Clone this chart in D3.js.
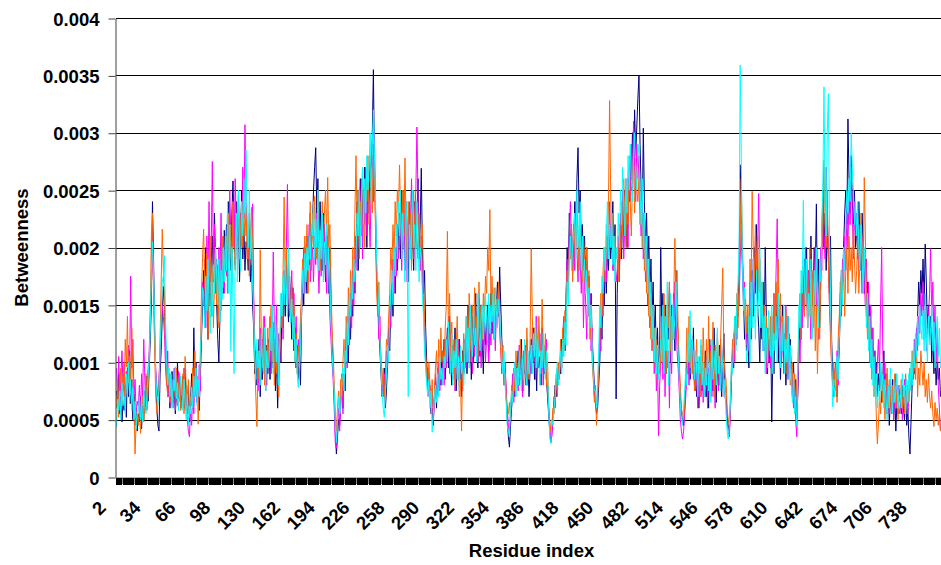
<!DOCTYPE html>
<html>
<head>
<meta charset="utf-8">
<script src="https://cdn.jsdelivr.net/npm/d3@7"></script>
<style>
  body { margin: 0; background: #fff; }
  svg text { font-family: Arial, "Liberation Sans", sans-serif; font-weight: bold; fill: #000; }
</style>
</head>
<body>
<div id="chart"></div>
<script>
// betweenness per residue, residues 2..759, values in units of 1e-5
const firstResidue = 2;

const navy = [
  75,62,90,55,70,48,66,58,80,52,95,70,110,64,85,50,72,45,60,40,
  55,48,70,42,62,50,75,58,88,66,95,120,150,240,190,130,85,60,45,40,
  90,110,140,166,150,120,95,70,88,60,78,92,65,80,55,72,100,68,85,60,
  72,88,60,95,70,55,80,48,66,90,60,130,85,100,65,78,58,90,120,150,
  180,140,200,160,120,175,150,190,210,170,230,185,150,120,100,140,170,200,160,215,
  190,220,170,240,200,180,230,258,210,185,240,200,225,170,210,250,190,220,180,205,
  200,180,220,170,195,150,130,90,110,80,95,120,70,105,85,130,100,75,115,90,
  120,85,110,140,95,130,75,105,60,90,120,100,150,130,170,140,190,160,135,175,
  150,120,165,110,130,95,115,85,100,80,140,170,150,200,175,160,210,185,230,200,
  220,250,270,287,230,260,200,240,210,180,230,200,170,220,190,160,200,150,120,95,
  70,40,20,35,50,45,65,80,60,90,75,110,130,100,150,120,170,140,185,160,
  200,240,180,230,260,210,250,220,270,240,200,260,230,280,250,300,355,270,230,180,
  160,130,110,90,70,80,95,60,75,100,130,110,150,170,140,190,160,200,180,210,
  230,190,250,200,220,180,240,210,170,230,200,250,210,180,240,200,230,260,190,220,
  269,200,160,180,130,100,80,90,70,55,60,45,70,85,60,95,75,100,80,110,
  90,120,85,110,130,95,140,100,80,115,90,130,75,100,85,120,95,70,110,90,
  100,130,90,150,110,120,85,140,100,125,160,110,95,135,105,150,120,90,140,115,
  130,150,110,140,160,125,145,120,135,150,170,140,183,150,120,100,85,95,70,50,
  35,26,45,60,75,90,70,100,85,110,80,95,120,75,105,90,115,80,100,70,
  95,120,100,130,85,110,75,120,95,105,80,130,100,90,115,85,70,55,40,30,
  40,55,65,80,70,95,85,100,90,120,105,130,110,150,200,170,230,190,220,180,
  200,240,210,260,287,230,250,200,220,180,210,170,200,150,175,140,160,120,100,80,
  65,55,60,80,100,140,120,170,150,190,160,200,180,220,190,210,240,180,220,68,
  160,200,180,220,190,240,210,250,230,200,260,240,280,250,300,270,320,280,305,330,
  350,290,250,220,304,240,200,230,180,210,160,190,140,170,120,150,100,130,90,110,
  200,130,160,110,150,90,140,120,170,100,150,130,160,110,180,140,120,90,70,55,
  50,45,60,80,100,90,120,85,110,95,130,80,100,70,90,60,85,110,75,95,
  80,110,70,95,60,120,85,100,75,130,90,65,105,80,115,90,70,100,125,80,
  70,55,45,40,60,85,110,95,130,115,150,140,180,272,230,190,160,120,140,110,
  130,95,160,120,180,140,200,160,220,150,130,100,150,120,170,110,200,140,90,120,
  100,130,48,110,90,140,120,160,100,130,85,120,150,95,125,80,110,140,90,120,
  90,70,100,60,85,50,75,110,140,120,170,150,190,160,200,140,180,160,210,150,
  160,200,180,238,150,190,130,170,210,250,200,230,180,220,190,160,210,120,90,70,
  85,100,70,95,110,150,180,160,200,230,250,220,312,260,230,280,240,220,250,200,
  220,190,240,210,180,230,200,160,190,140,170,120,150,100,130,90,110,80,100,70,
  90,75,100,65,85,110,70,90,55,80,45,70,60,85,50,75,40,65,55,80,
  70,55,80,60,50,75,45,60,35,20,50,80,100,90,120,110,140,170,150,180,
  160,190,150,203,170,130,150,120,140,100,125,90,110,80,100,85,95,70
];

const magenta = [
  95,70,105,62,88,110,75,100,68,92,80,115,90,175,95,120,70,85,55,66,
  62,80,55,90,70,120,85,60,78,95,110,140,165,200,170,120,95,80,70,88,
  100,130,150,140,125,95,80,110,70,90,62,85,75,95,58,80,70,92,66,78,
  80,62,95,58,72,50,40,35,60,45,75,55,90,70,82,65,98,75,140,170,
  150,190,130,210,170,240,160,200,275,180,220,160,190,140,200,170,230,180,210,160,
  200,175,230,190,250,210,180,240,200,260,220,190,245,210,230,200,270,225,307,240,
  210,190,230,200,185,238,160,120,95,110,75,100,130,85,120,90,140,105,80,110,
  105,140,90,120,196,130,110,150,85,125,100,140,160,120,180,150,200,255,170,140,
  150,180,130,160,110,140,95,120,100,130,150,175,200,160,190,210,180,220,170,200,
  200,170,210,185,230,190,160,200,175,210,180,220,190,160,210,180,140,120,100,85,
  60,30,25,45,60,40,70,90,55,85,100,120,95,140,115,160,130,180,150,200,
  210,180,250,200,230,260,190,240,220,270,210,250,230,200,260,280,240,300,220,170,
  150,120,140,100,85,70,90,80,110,95,120,150,130,170,190,160,200,175,220,190,
  200,240,180,220,250,190,230,170,210,240,200,260,220,190,230,250,305,240,210,180,
  210,170,150,120,100,85,95,70,80,60,75,50,65,90,70,85,100,75,95,80,
  100,80,120,95,110,140,90,125,100,85,115,75,105,90,120,80,100,90,75,110,
  120,95,140,100,130,110,150,90,125,105,140,115,100,155,120,95,130,110,145,100,
  120,140,100,130,115,150,125,140,110,145,130,160,135,110,90,105,80,100,75,60,
  45,40,55,70,90,65,100,80,95,75,115,85,100,70,110,95,80,120,90,105,
  110,90,130,100,120,85,140,95,110,125,90,115,80,105,95,120,75,60,45,35,
  35,50,70,60,85,75,100,90,110,95,125,140,115,160,190,170,210,240,200,180,
  220,180,240,200,170,210,190,160,200,130,180,150,120,170,140,160,110,130,90,70,
  70,60,75,95,130,110,160,140,180,200,170,210,190,240,200,230,180,210,190,170,
  180,210,170,230,200,250,190,220,260,230,200,270,240,290,250,310,270,240,290,260,
  280,240,210,250,190,220,170,200,150,180,130,160,110,140,90,120,75,100,36,80,
  100,130,85,120,70,140,95,110,60,130,90,150,120,170,140,110,95,75,50,40,
  33,40,55,70,90,110,80,125,95,115,85,100,75,90,60,80,105,70,95,65,
  90,70,105,60,95,80,115,70,100,85,60,95,110,75,90,120,85,100,80,70,
  65,50,40,35,55,90,105,125,100,140,120,160,150,190,220,180,150,170,130,115,
  140,110,170,130,160,190,150,210,170,190,247,180,140,160,110,150,120,90,130,100,
  120,95,140,110,160,130,180,225,150,120,140,100,130,90,115,150,105,85,125,95,
  95,80,60,75,50,35,80,120,100,150,130,170,140,200,160,130,180,150,120,170,
  180,150,200,140,170,120,160,200,180,240,210,190,270,230,200,150,130,100,80,95,
  90,75,110,80,130,160,140,190,170,210,180,230,200,250,220,270,230,190,240,210,
  230,200,180,220,190,160,210,170,150,190,130,170,110,150,95,130,85,110,75,100,
  120,90,150,200,110,80,100,65,90,70,55,85,60,75,50,70,90,60,80,55,
  60,75,50,70,85,60,80,55,70,90,75,100,85,120,100,130,110,140,125,160,
  140,170,120,150,110,130,140,160,199,140,170,120,150,100,130,80,60,40
];

const orange = [
  60,85,52,78,95,64,88,70,120,96,140,82,105,72,130,90,62,20,48,55,
  45,62,38,55,70,48,66,90,58,75,100,150,210,230,160,110,72,55,66,80,
  120,170,216,180,160,110,85,70,95,65,88,72,60,82,70,95,62,78,90,58,
  66,90,55,105,78,60,85,52,70,62,95,80,110,72,88,46,80,100,160,190,
  216,170,150,195,120,160,210,140,180,130,170,200,150,185,130,175,145,210,165,190,
  180,210,160,230,190,220,170,240,200,180,230,210,250,190,220,240,200,230,210,235,
  190,220,175,210,235,200,150,100,70,44,110,85,198,120,95,140,80,115,100,130,
  95,120,150,100,135,80,115,90,125,70,110,140,130,180,244,160,200,150,190,165,
  140,170,120,150,100,125,90,115,105,140,160,190,170,210,185,220,160,200,240,180,
  230,200,245,215,190,250,220,180,210,240,200,230,250,210,261,200,220,170,130,110,
  80,55,40,60,75,55,85,70,100,120,90,140,115,165,130,180,150,200,170,230,
  280,220,250,190,240,210,270,230,200,260,240,280,220,250,270,230,290,260,210,160,
  140,170,120,100,80,95,70,90,120,110,140,160,200,180,220,190,240,210,250,230,
  272,230,200,250,210,278,220,190,240,210,230,180,220,250,200,240,210,190,230,200,
  200,220,170,140,110,90,75,100,80,65,85,55,70,95,110,80,120,90,130,100,
  110,95,130,150,214,120,160,100,135,90,120,80,110,140,95,70,85,40,100,125,
  95,120,140,110,160,125,100,150,130,165,115,140,105,170,130,150,120,160,140,175,
  160,200,180,233,150,175,140,165,130,155,145,170,125,110,95,115,80,90,70,55,
  55,65,50,80,70,95,75,110,90,100,80,120,95,105,75,115,90,130,100,85,
  120,199,140,110,130,95,125,100,140,115,90,155,110,95,125,80,100,65,50,40,
  45,60,55,75,90,70,100,85,120,95,130,110,145,125,180,160,200,190,220,170,
  190,220,200,240,210,180,230,200,170,210,190,160,200,140,180,120,150,100,85,65,
  80,45,70,90,120,160,140,180,200,170,220,190,240,328,250,200,230,180,210,190,
  200,170,220,190,240,210,260,230,200,250,220,270,240,210,260,280,230,270,250,240,
  260,220,240,200,230,180,210,160,190,140,170,120,150,110,130,95,120,80,100,90,
  110,140,100,160,120,90,150,130,170,110,140,120,160,208,150,180,130,100,80,60,
  55,50,65,85,130,100,140,95,120,90,110,75,95,120,80,100,70,115,85,130,
  100,75,120,90,140,80,110,95,135,70,115,90,125,105,80,120,150,182,110,90,
  85,60,50,45,70,95,120,100,140,125,160,130,170,210,260,200,175,140,155,125,
  150,120,190,160,249,200,170,220,180,210,160,190,130,170,120,150,110,140,95,130,
  110,140,90,130,160,120,170,140,190,130,160,110,140,120,100,145,90,125,105,80,
  85,100,70,90,65,80,95,130,160,120,180,150,140,190,170,130,160,200,140,180,
  130,170,110,150,90,140,120,170,200,240,276,220,200,250,190,150,120,95,80,100,
  80,100,65,120,140,170,150,160,190,140,180,200,160,210,180,200,170,220,190,160,
  180,210,160,190,230,200,170,261,210,150,120,140,100,130,85,110,70,90,55,29,
  45,70,55,90,65,80,50,75,95,60,85,70,55,80,65,90,60,75,50,70,
  65,85,60,75,55,90,70,80,65,95,75,110,90,100,85,120,70,95,80,110,
  95,80,100,70,85,65,90,70,60,75,55,44,65,50,60,45,55,40
];

const cyan = [
  44,68,58,75,50,82,62,70,55,90,72,100,64,85,58,78,50,66,42,58,
  58,70,50,64,48,80,62,55,72,88,105,130,180,205,175,140,90,70,62,75,
  110,140,170,175,193,140,100,80,95,70,90,60,85,75,96,68,82,58,74,88,
  75,58,85,66,50,72,45,62,55,78,60,88,70,95,62,85,70,110,130,165,
  160,130,175,145,190,150,125,170,140,185,160,200,175,150,190,135,180,155,200,170,
  210,180,240,160,220,110,200,150,90,190,230,170,250,200,180,240,210,260,230,285,
  230,200,250,190,215,170,140,105,85,120,95,110,80,125,100,90,130,75,110,95,
  100,130,110,150,90,120,140,100,130,80,120,160,140,175,150,190,165,140,200,160,
  135,155,120,140,100,120,90,78,95,110,150,180,160,195,170,200,180,210,190,220,
  210,240,190,225,200,250,180,215,190,230,170,205,185,220,160,200,175,140,110,90,
  75,45,30,50,70,55,60,85,95,75,110,100,135,115,160,140,175,155,190,170,
  190,230,210,250,200,240,270,220,260,230,280,250,270,300,240,290,320,280,240,190,
  170,140,120,95,75,60,52,70,90,115,100,140,160,180,150,200,175,220,190,240,
  210,250,190,230,200,170,240,210,70,220,190,230,250,200,220,180,240,210,170,200,
  190,160,140,110,95,80,70,85,60,75,39,55,68,80,65,90,70,105,85,95,
  80,105,95,120,100,135,110,90,125,80,110,95,120,85,105,75,115,90,100,80,
  110,140,100,130,95,150,120,105,145,115,130,100,160,125,110,140,150,120,135,160,
  140,115,160,125,150,135,160,120,165,145,130,155,140,125,105,90,110,80,65,45,
  40,35,60,75,65,85,100,70,95,80,110,90,75,105,85,120,95,80,110,90,
  100,115,90,125,105,140,95,120,100,80,110,95,125,100,85,110,90,60,35,29,
  50,45,60,70,85,100,80,95,110,90,120,105,135,115,170,150,190,210,180,200,
  210,230,190,250,220,200,240,180,210,170,190,160,180,140,165,130,150,110,90,75,
  75,60,85,110,150,130,175,160,200,180,210,240,190,220,200,230,185,210,170,200,
  190,230,200,250,220,270,240,210,260,230,280,250,290,260,240,280,300,270,250,280,
  290,250,220,260,200,230,180,210,160,190,140,170,120,150,100,130,90,115,85,105,
  120,100,150,90,140,110,170,80,130,160,100,150,120,140,170,130,110,85,65,50,
  45,60,75,95,80,125,100,145,90,120,105,85,110,95,70,105,90,120,80,100,
  70,95,80,110,75,100,65,120,85,95,110,80,130,90,105,75,110,95,70,85,
  55,40,33,45,65,100,90,120,140,110,155,170,200,359,280,190,145,165,120,100,
  110,140,100,170,130,190,150,120,180,140,160,200,130,170,110,140,90,130,100,145,
  130,105,150,90,125,110,140,100,160,120,95,135,110,150,90,120,100,140,85,115,
  80,65,90,55,70,45,100,150,130,180,160,241,170,150,190,130,160,140,190,120,
  140,180,150,200,160,130,190,170,220,260,340,240,210,300,334,220,160,110,61,85,
  70,90,105,85,120,140,180,150,200,180,220,250,230,260,240,300,270,250,220,240,
  210,240,200,180,220,190,160,200,170,130,160,110,140,95,120,80,105,70,90,60,
  80,65,100,75,90,60,85,70,50,80,60,95,70,55,85,65,75,90,60,80,
  75,60,90,70,80,55,85,65,90,75,100,80,110,95,125,105,140,115,150,130,
  120,145,110,160,125,100,140,115,130,150,110,135,95,120,140,105,130,95
];

const seriesList = [navy, magenta, orange, cyan];
const seriesColors = ['#000080', '#ff00ff', '#ff6600', '#00ffff'];
const yTicks = [0, 0.0005, 0.001, 0.0015, 0.002, 0.0025, 0.003, 0.0035, 0.004];
const yTickLabels = ['0', '0.0005', '0.001', '0.0015', '0.002', '0.0025', '0.003', '0.0035', '0.004'];
const xLabelStep = 32;

const width = 941, height = 565;
const plotLeft = 116, plotRight = 941, plotTop = 18, plotBottom = 477;
const lastResidue = firstResidue + navy.length - 1;
const residues = d3.range(firstResidue, lastResidue + 1);

const svg = d3.select('#chart')
  .append('svg')
  .attr('width', width)
  .attr('height', height);

const x = d3.scaleLinear()
  .domain([firstResidue - 0.5, lastResidue + 0.5])
  .range([plotLeft, plotRight]);

const y = d3.scaleLinear()
  .domain([0, 0.004])
  .range([plotBottom, plotTop]);

// gridlines
svg.append('g')
  .selectAll('line')
  .data(yTicks.slice(1))
  .enter()
  .append('line')
  .attr('x1', plotLeft)
  .attr('x2', plotRight)
  .attr('y1', d => Math.round(y(d)) + 0.5)
  .attr('y2', d => Math.round(y(d)) + 0.5)
  .attr('stroke', '#000')
  .attr('stroke-width', 1);

// series
const line = d3.line()
  .x((d, i) => x(firstResidue + i))
  .y(d => y(d * 1e-5));

svg.append('g')
  .selectAll('path')
  .data(seriesList)
  .enter()
  .append('path')
  .attr('d', line)
  .attr('fill', 'none')
  .attr('stroke', (d, i) => seriesColors[i])
  .attr('stroke-width', 1);

// y axis
const yAxis = svg.append('g')
  .attr('transform', 'translate(' + (plotLeft - 0.5) + ',0.5)')
  .call(d3.axisLeft(y)
    .tickValues(yTicks)
    .tickFormat((d, i) => yTickLabels[i])
    .tickSize(7)
    .tickSizeOuter(0)
    .tickPadding(9));
yAxis.select('.domain').attr('stroke', '#404040');
yAxis.selectAll('.tick line').attr('stroke', '#404040');
yAxis.selectAll('.tick text').style('font-size', '18.5px').attr('dy', '0.36em');

// x axis: gray band with a black tick at every category boundary
svg.append('rect')
  .attr('x', plotLeft)
  .attr('y', plotBottom + 1)
  .attr('width', plotRight - plotLeft)
  .attr('height', 6)
  .attr('fill', '#8a8a8a');

const xAxis = svg.append('g')
  .attr('transform', 'translate(0,' + (plotBottom + 0.5) + ')')
  .call(d3.axisBottom(x)
    .tickValues(d3.range(firstResidue - 0.5, lastResidue + 1, 1))
    .tickSize(7)
    .tickSizeOuter(0)
    .tickFormat(''));
xAxis.select('.domain').attr('stroke', '#606060');
xAxis.selectAll('.tick line')
  .attr('stroke', '#000')
  .attr('shape-rendering', 'crispEdges');

// x labels every 32 residues
const xLabels = residues.filter((r, i) => i % xLabelStep === 0);
svg.append('g')
  .selectAll('text')
  .data(xLabels)
  .enter()
  .append('text')
  .attr('transform', d => 'translate(' + (x(d) - 9.5) + ',509) rotate(-45)')
  .attr('text-anchor', 'end')
  .style('font-size', '18.5px')
  .text(d => d);

// axis titles
svg.append('text')
  .attr('x', (plotLeft + plotRight) / 2 + 3)
  .attr('y', 557)
  .attr('text-anchor', 'middle')
  .style('font-size', '18.5px')
  .text('Residue index');

svg.append('text')
  .attr('transform', 'translate(28,' + ((plotTop + plotBottom) / 2) + ') rotate(-90)')
  .attr('text-anchor', 'middle')
  .style('font-size', '18.5px')
  .text('Betweenness');
</script>
</body>
</html>
